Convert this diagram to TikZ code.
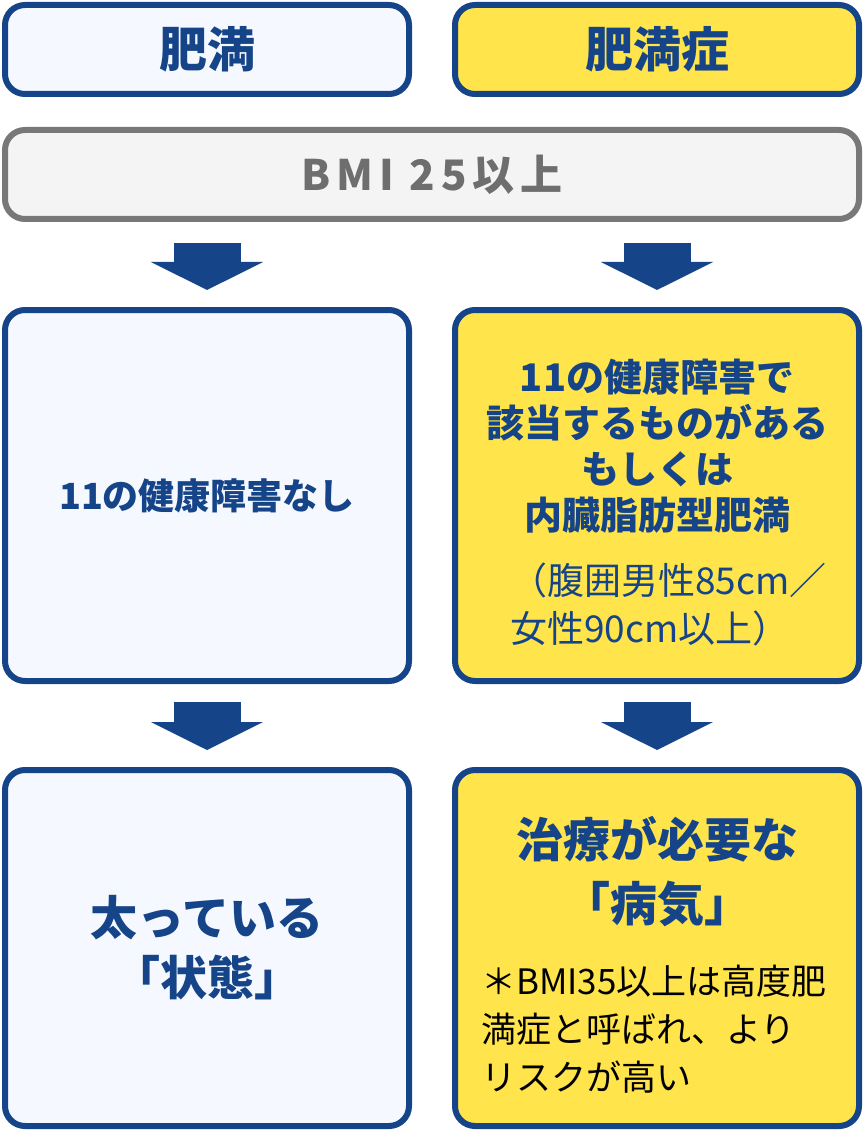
\documentclass[tikz,border=0pt]{standalone}
\usepackage{fontspec}
\setmainfont{Noto Sans CJK JP}
\usetikzlibrary{arrows.meta,positioning}
\definecolor{obblue}{HTML}{164488}
\definecolor{obyellow}{HTML}{FFE44B}
\definecolor{oblight}{HTML}{F5F9FF}
\definecolor{obgrey}{HTML}{787878}
\definecolor{obgreyfill}{HTML}{F4F4F4}
\definecolor{obgreytext}{HTML}{6E6E6E}
\newcommand{\fsz}[2]{\fontsize{#1}{#2}\selectfont}

\begin{document}
\begin{tikzpicture}[x=1pt, y=-1pt,
  box/.style={draw=obblue, line width=6pt, rounded corners=20pt, minimum width=404pt, inner sep=0pt},
  plainbox/.style={box, fill=oblight},
  sickbox/.style={box, fill=obyellow},
  bigarrow/.style={draw=obblue, line width=67pt, -{Triangle[width=111pt,length=28pt]}},
  lbl/.style={text=obblue, font=\bfseries\fsz{48}{60}, align=center, inner sep=0pt},
  note/.style={font=\fsz{35}{48}, align=left, inner sep=0pt, anchor=west},
  ]
\useasboundingbox (0,0) rectangle (864,1131);

%%% headers %%%
      \node[plainbox, minimum height=89pt, lbl] (obesity) at (207,49.5) {肥満};
      \node[sickbox, minimum height=89pt, lbl] (disease) at (657,49.5) {肥満症};
      %%
      \node[draw=obgrey, fill=obgreyfill, line width=6pt, rounded corners=20pt,
            minimum width=854pt, minimum height=89pt, inner sep=0pt,
            text=obgreytext, font=\bfseries\fsz{42}{48}\addfontfeature{LetterSpace=14}] (bmi) at (432,174.5) {BMI 25以上};

%%% middle row %%%
      \node[plainbox, minimum height=371pt] (nocond) at (207,495.5) {};
      \node[sickbox, minimum height=371pt] (cond) at (657,495.5) {};
      %%
      \node[lbl, font=\bfseries\fsz{36}{46}] (nocondtext) at (nocond) {11の健康障害なし};
      \node[lbl, font=\bfseries\fsz{38}{46}] (condtext) at (657,446) {11の健康障害で\\該当するものがある\\もしくは\\内臓脂肪型肥満};
      \node[note, text=obblue, font=\fsz{37}{48}] (waist) at (510,604) {（腹囲男性85cm／\\女性90cm以上）};

%%% bottom row %%%
      \node[plainbox, minimum height=356pt] (state) at (207,948) {};
      \node[sickbox, minimum height=356pt] (illness) at (657,948) {};
      %%
      \node[lbl, font=\bfseries\fsz{47}{60}] (statetext) at (207,948) {太っている\\「状態」};
      \node[lbl, font=\bfseries\fsz{47}{64}] (illnesstext) at (657,872) {治療が必要な\\「病気」};
      \node[note, text=black] (risk) at (481,1029) {＊BMI35以上は高度肥\\満症と呼ばれ、より\\リスクが高い};

%%% arrows %%%
      \draw[bigarrow] ([yshift=-21pt]bmi.south -| nocond.north) -- ([yshift=17pt]nocond.north);
      \draw[bigarrow] ([yshift=-21pt]bmi.south -| cond.north) -- ([yshift=17pt]cond.north);
      \draw[bigarrow] ([yshift=-18pt]nocond.south) -- ([yshift=17pt]state.north);
      \draw[bigarrow] ([yshift=-18pt]cond.south) -- ([yshift=17pt]illness.north);

\end{tikzpicture}
\end{document}
